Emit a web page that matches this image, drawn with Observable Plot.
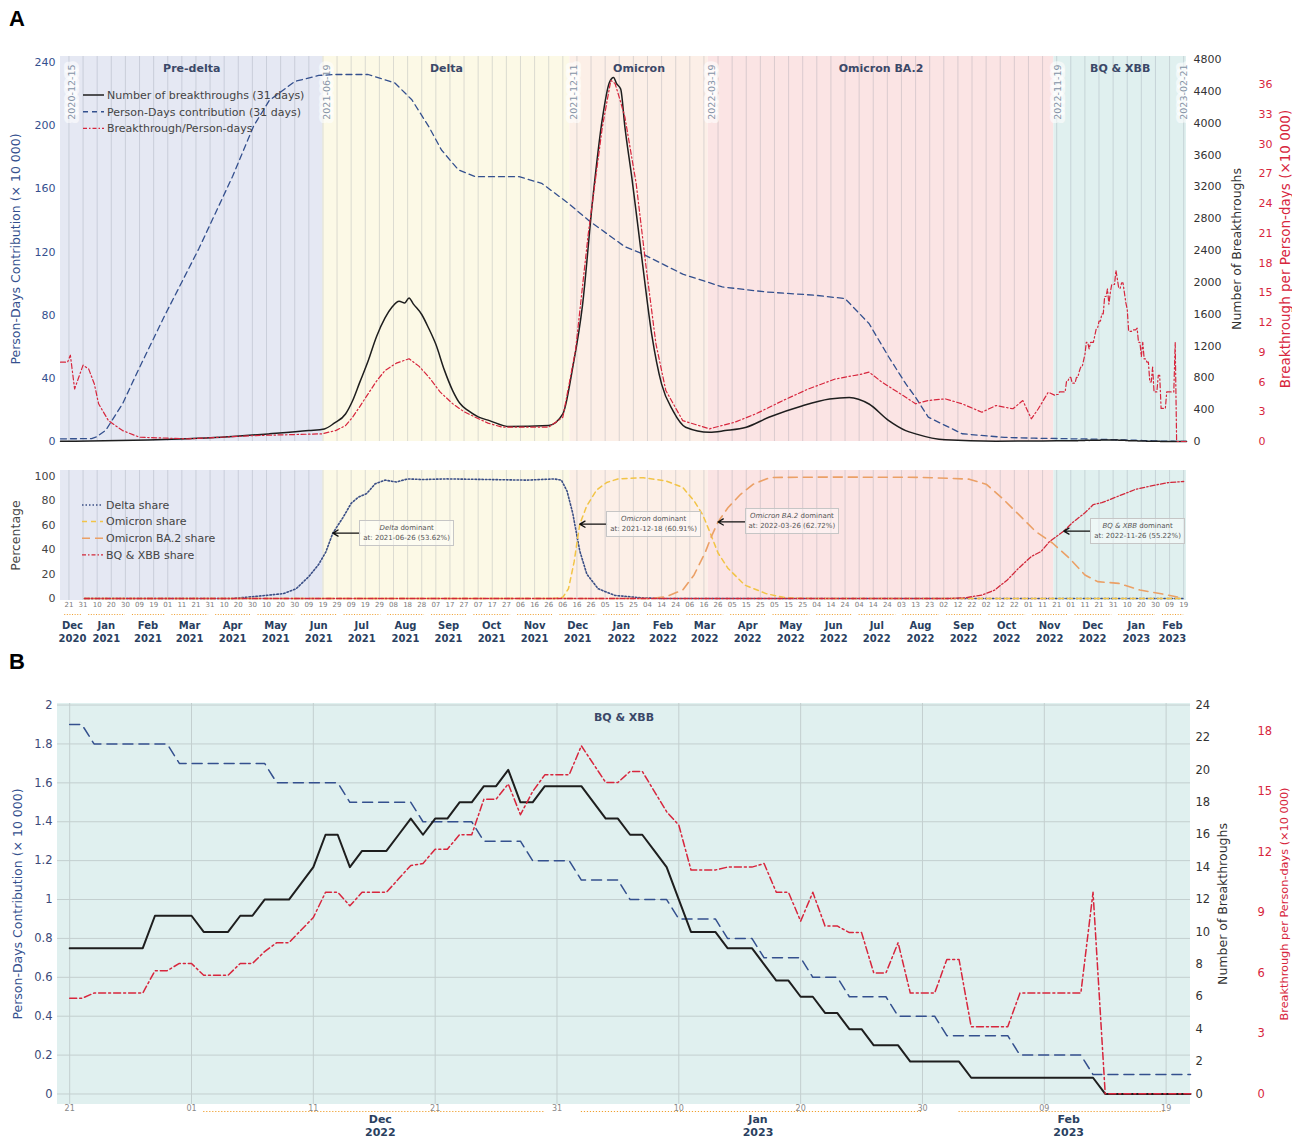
<!DOCTYPE html>
<html>
<head>
<meta charset="utf-8">
<script src="https://cdn.jsdelivr.net/npm/d3@7"></script>
<script src="https://cdn.jsdelivr.net/npm/@observablehq/plot@0.6"></script>
<style>
  html,body{margin:0;padding:0;background:#fff;}
  #root{position:relative;width:1292px;height:1139px;overflow:hidden;font-family:"DejaVu Sans",Verdana,sans-serif;}
  #root svg{overflow:visible;}
  .letter{position:absolute;left:9px;font:bold 22px "Liberation Sans",Arial,sans-serif;color:#000;}
  .ann{position:absolute;transform:translateY(-50%);font-size:7px;line-height:10px;color:#555;border:1px solid #c6c6c6;background:rgba(255,255,255,0.45);padding:2px 3px;text-align:center;white-space:nowrap;}
</style>
</head>
<body>
<div id="root"></div>
<script>
// ================= DATA =================
// Variant periods (band name, start, end)
const bands = [
  {name: "Pre-delta",    start: "2020-12-15", end: "2021-06-19"},
  {name: "Delta",        start: "2021-06-19", end: "2021-12-11"},
  {name: "Omicron",      start: "2021-12-11", end: "2022-03-19"},
  {name: "Omicron BA.2", start: "2022-03-19", end: "2022-11-19"},
  {name: "BQ & XBB",     start: "2022-11-19", end: "2023-02-21"}
];

// Panel A (top): Person-days contribution (x 10 000), 31-day window
const pdDatesA = ["2020-12-15","2021-01-06","2021-01-09","2021-01-16","2021-01-28","2021-02-08","2021-02-27","2021-03-23","2021-04-16","2021-05-01","2021-05-12","2021-05-30","2021-06-16","2021-06-28","2021-07-21","2021-08-09","2021-08-21","2021-09-02","2021-09-11","2021-09-23","2021-10-05","2021-11-05","2021-11-21","2021-12-10","2021-12-24","2022-01-19","2022-01-31","2022-03-01","2022-03-29","2022-04-29","2022-06-03","2022-06-24","2022-07-11","2022-07-25","2022-08-06","2022-08-13","2022-08-22","2022-09-15","2022-10-15","2022-11-05"];
const pdValsA = [1.7,1.8,2.7,7,23.9,45,80,122,168,200,216,228,231.8,232.4,232.4,227,216.4,199.4,184.6,172,167.7,167.7,163.5,150.8,140.2,123.3,119,106,97.9,94.7,92.6,90.5,74.7,53.5,36.6,28,15.4,4.9,2.6,2.1];

// Panel A (top): Number of breakthroughs, 31-day window
const countDatesA = ["2020-12-15","2021-01-15","2021-02-15","2021-03-15","2021-04-08","2021-05-12","2021-06-09","2021-06-20","2021-06-27","2021-07-05","2021-07-10","2021-07-15","2021-07-21","2021-07-27","2021-08-02","2021-08-07","2021-08-12","2021-08-16","2021-08-19","2021-08-22","2021-08-28","2021-09-02","2021-09-07","2021-09-13","2021-09-19","2021-09-24","2021-09-30","2021-10-07","2021-10-15","2021-10-29","2021-11-26","2021-12-06","2021-12-13","2021-12-20","2021-12-27","2022-01-03","2022-01-08","2022-01-11","2022-01-13","2022-01-16","2022-01-19","2022-01-24","2022-01-31","2022-02-07","2022-02-14","2022-02-22","2022-03-03","2022-03-20","2022-03-31","2022-04-15","2022-05-01","2022-05-25","2022-06-13","2022-06-27","2022-07-11","2022-07-25","2022-08-06","2022-08-13","2022-09-03","2022-10-09","2022-11-05"];
const countValsA = [3,8,20,35,54,96,137,158,230,346,512,740,1012,1320,1554,1690,1762,1740,1804,1730,1596,1420,1221,900,637,480,387,310,262,187,200,346,929,1721,3012,4054,4512,4575,4500,4429,3950,3304,2304,1346,721,387,179,116,137,179,304,450,533,554,471,262,137,96,21,4,6];

// Panel A (top): Breakthrough per person-days (x 10 000)
const rateDatesA = ["2020-12-15","2020-12-20","2020-12-22","2020-12-25","2020-12-31","2021-01-04","2021-01-08","2021-01-11","2021-01-18","2021-01-28","2021-02-09","2021-03-16","2021-05-02","2021-06-18","2021-06-28","2021-07-05","2021-07-10","2021-07-15","2021-07-21","2021-07-27","2021-08-02","2021-08-10","2021-08-19","2021-08-26","2021-09-02","2021-09-10","2021-09-19","2021-09-27","2021-10-05","2021-10-14","2021-10-24","2021-11-26","2021-12-06","2021-12-15","2021-12-24","2022-01-03","2022-01-09","2022-01-12","2022-01-15","2022-01-19","2022-01-27","2022-02-03","2022-02-10","2022-02-17","2022-03-01","2022-03-20","2022-04-07","2022-04-22","2022-05-11","2022-05-29","2022-06-17","2022-07-06","2022-07-11","2022-07-20","2022-08-06","2022-08-13","2022-08-22","2022-09-03","2022-09-15","2022-09-29","2022-10-09","2022-10-21","2022-10-28","2022-11-03","2022-11-08","2022-11-15","2022-11-20"];
const rateValsA = [8.0,8.0,8.7,5.3,7.7,7.3,5.8,3.8,2.1,1.1,0.43,0.27,0.6,0.77,1.1,1.6,2.45,3.5,4.8,6.1,7.16,7.9,8.34,7.6,6.5,5.0,3.8,3.0,2.45,1.85,1.45,1.45,2.45,9.2,20.9,31.7,36.4,36.1,34.7,32.7,26,17.6,9.85,5.14,2.1,1.28,1.95,2.8,4.13,5.3,6.3,6.8,7.0,6.0,4.47,3.8,4.13,4.3,3.8,2.95,3.63,3.3,4.13,2.29,3.3,4.97,4.64];

// Panel B: daily values from 2022-11-21 to 2023-02-21
const bStartDate = "2022-11-21";
const pdB = [1.9,1.9,1.8,1.8,1.8,1.8,1.8,1.8,1.8,1.7,1.7,1.7,1.7,1.7,1.7,1.7,1.7,1.6,1.6,1.6,1.6,1.6,1.6,1.5,1.5,1.5,1.5,1.5,1.5,1.4,1.4,1.4,1.4,1.4,1.3,1.3,1.3,1.3,1.2,1.2,1.2,1.2,1.1,1.1,1.1,1.1,1.0,1.0,1.0,1.0,0.9,0.9,0.9,0.9,0.8,0.8,0.8,0.7,0.7,0.7,0.7,0.6,0.6,0.6,0.5,0.5,0.5,0.5,0.4,0.4,0.4,0.4,0.3,0.3,0.3,0.3,0.3,0.3,0.2,0.2,0.2,0.2,0.2,0.2,0.1,0.1,0.1,0.1,0.1,0.1,0.1,0.1,0.1];
const countB = [9,9,9,9,9,9,9,11,11,11,11,10,10,10,11,11,12,12,12,13,14,16,16,14,15,15,15,16,17,16,17,17,18,18,19,19,20,18,18,19,19,19,19,18,17,17,16,16,15,14,12,10,10,10,9,9,9,8,7,7,6,6,5,5,4,4,3,3,3,2,2,2,2,2,1,1,1,1,1,1,1,1,1,1,1,0,0,0,0,0,0,0,0];
const rateB = [4.74,4.74,5,5,5,5,5,6.11,6.11,6.47,6.47,5.88,5.88,5.88,6.47,6.47,7.06,7.5,7.5,8.13,8.75,10,10,9.33,10,10,10,10.67,11.33,11.43,12.14,12.14,12.86,12.86,14.62,14.62,15.38,13.85,15,15.83,15.83,15.83,17.27,16.36,15.45,15.45,16,16,15,14,13.33,11.11,11.11,11.11,11.25,11.25,11.25,11.43,10,10,8.57,10,8.33,8.33,8,8,6,6,7.5,5,5,5,6.67,6.67,3.33,3.33,3.33,3.33,5,5,5,5,5,5,10,0,0,0,0,0,0,0,0];

// Panel A (bottom): variant shares (%)
const deltaDates = ["2021-01-01","2021-04-16","2021-05-05","2021-05-22","2021-05-31","2021-06-09","2021-06-16","2021-06-21","2021-06-26","2021-07-03","2021-07-09","2021-07-14","2021-07-20","2021-07-26","2021-08-02","2021-08-10","2021-08-18","2021-08-28","2021-09-15","2021-10-15","2021-11-10","2021-11-30","2021-12-05","2021-12-09","2021-12-13","2021-12-18","2021-12-23","2021-12-31","2022-01-12","2022-01-31","2022-02-15","2023-02-19"];
const deltaVals = [0,0,2,4,8,18,28,38,53.62,66,78,83,86,94,97,95.5,98,97.5,98,97.5,97,98,97,88,70,39,20,8,2.5,0.5,0,0];
const omiDates = ["2021-01-01","2021-11-30","2021-12-06","2021-12-10","2021-12-14","2021-12-18","2021-12-23","2021-12-30","2022-01-06","2022-01-14","2022-02-01","2022-02-17","2022-03-01","2022-03-09","2022-03-15","2022-03-20","2022-03-26","2022-04-02","2022-04-14","2022-04-29","2022-05-13","2022-06-01","2023-02-19"];
const omiVals = [0,0,1,8,30,60.91,76,89,95,98,99,96.4,91,80,69,55,37.3,24.8,11,4,0.5,0,0];
const ba2Dates = ["2021-01-01","2022-02-05","2022-02-17","2022-03-01","2022-03-09","2022-03-17","2022-03-21","2022-03-26","2022-04-02","2022-04-11","2022-04-20","2022-05-02","2022-06-15","2022-08-15","2022-09-05","2022-09-20","2022-10-02","2022-10-13","2022-10-25","2022-11-06","2022-11-18","2022-11-30","2022-12-11","2022-12-20","2023-01-04","2023-01-19","2023-02-02","2023-02-18"];
const ba2Vals = [0,0,1.4,7,19.3,38,50,62.72,74.4,85.4,93.7,99.2,99.5,99.3,98.5,97.8,93.7,82.6,68.9,55,45.5,33,19.3,13.8,12.4,6.9,4.1,0.5];
const bqDates = ["2021-01-01","2022-09-05","2022-09-17","2022-09-29","2022-10-08","2022-10-17","2022-10-25","2022-11-03","2022-11-10","2022-11-16","2022-11-21","2022-11-26","2022-12-02","2022-12-11","2022-12-17","2022-12-23","2023-01-04","2023-01-16","2023-01-27","2023-02-08","2023-02-19"];
const bqVals = [0,0,0.6,2.8,6.9,15.2,24.8,34.4,38.6,46.8,51,55.22,62,70.2,77,78.5,84,89.5,92.3,95,95.9];

// Dominance annotations
const dominance = [
  {variant: "Delta",        date: "2021-06-26", pct: 53.62},
  {variant: "Omicron",      date: "2021-12-18", pct: 60.91},
  {variant: "Omicron BA.2", date: "2022-03-26", pct: 62.72},
  {variant: "BQ & XBB",     date: "2022-11-26", pct: 55.22}
];

// Tick labels / axis values
const pdTicksA = [0,40,80,120,160,200,240];
const countTicksA = [0,400,800,1200,1600,2000,2400,2800,3200,3600,4000,4400,4800];
const rateTicksA = [0,3,6,9,12,15,18,21,24,27,30,33,36];
const pctTicks = [0,20,40,60,80,100];
const pdTicksB = [0,0.2,0.4,0.6,0.8,1,1.2,1.4,1.6,1.8,2];
const countTicksB = [0,2,4,6,8,10,12,14,16,18,20,22,24];
const rateTicksB = [0,3,6,9,12,15,18];
const dayTickStartA = "2020-12-21";
const dayTickStartB = "2022-11-21";
const dayTickStep = 10;

// Labels
const titlePD = "Person-Days Contribution (× 10 000)";
const titleCount = "Number of Breakthroughs";
const titleRate = "Breakthrough per Person-days (×10 000)";
const legendTop = ["Number of breakthroughs (31 days)", "Person-Days contribution (31 days)", "Breakthrough/Person-days"];
const legendShares = ["Delta share", "Omicron share", "Omicron BA.2 share", "BQ & XBB share"];

// ================= STYLE =================
const FONT = "DejaVu Sans, Verdana, sans-serif";
const W = 1292;
const bandColors = {"Pre-delta": "#e5e8f3", "Delta": "#fcf9e6", "Omicron": "#fcefe7", "Omicron BA.2": "#fbe4e4", "BQ & XBB": "#e0f0ef"};
const BLUE = "#34508e", RED = "#d7263d", BLACK = "#1e1e1e";
const C_DELTA = "#3b4f86", C_OMI = "#f2c447", C_BA2 = "#eba066", C_BQ = "#d1283a";
const ORANGE_DOT = "#f0a030";
const BAND_TXT = "#3b4868", MONTH_TXT = "#2a3f5f";

// ================= HELPERS =================
const P = d3.utcParse("%Y-%m-%d");
const day = d3.utcDay;
const root = document.getElementById("root");
const zip = (ds, vs) => ds.map((d, i) => ({date: P(d), v: vs[i]}));
const daily = vs => vs.map((v, i) => ({date: day.offset(P(bStartDate), i), v}));
const mid = (a, b) => new Date((+a + +b) / 2);
function place(svg, top) {
  svg.style.position = "absolute"; svg.style.left = "0px"; svg.style.top = top + "px";
  root.appendChild(svg); return svg;
}
function dayTicks(start, stop) { const out = []; for (let d = P(start); d <= stop; d = day.offset(d, dayTickStep)) out.push(d); return out; }
function monthsIn(dom, minDays) {
  return d3.utcMonth.range(d3.utcMonth.floor(dom[0]), dom[1]).map(m => {
    const s = m < dom[0] ? dom[0] : m, n = d3.utcMonth.offset(m, 1), e = n > dom[1] ? dom[1] : n;
    return {s, e, mid: mid(s, e), label: d3.utcFormat("%b\n%Y")(m), days: (e - s) / 864e5};
  }).filter(d => d.days >= minDays);
}
const style = {background: "transparent", overflow: "visible", fontFamily: FONT};
const title = (t, side, dx, fontSize, fill) => Plot.text([t], {frameAnchor: side, rotate: -90, textAnchor: "middle", lineAnchor: "middle", dx, fontSize, fill});

const domA = [P("2020-12-15"), P("2023-02-21")];
const domB = [P("2022-11-20"), P("2023-02-21")];
const bandRows = bands.map(b => ({...b, s: P(b.start), e: P(b.end)}));
const ticksA = dayTicks(dayTickStartA, domA[1]);
const ticksB = dayTicks(dayTickStartB, domB[1]);
const monthsA = monthsIn(domA, 14);
const monthsB = monthsIn(domB, 14);

const pdA = zip(pdDatesA, pdValsA).concat(daily(pdB));
const countA = zip(countDatesA, countValsA).concat(daily(countB));
const rateA = zip(rateDatesA, rateValsA).concat(daily(rateB));

// ================= PANEL A (top) =================
const aTopM = {width: W, height: 420, marginTop: 16, marginBottom: 19, marginLeft: 60, marginRight: 106, style, color: {type: "identity"}};
const boundaries = bandRows.map(b => b.s).concat([bandRows[bandRows.length - 1].e]);
const dateLblOpts = {x: d => d, text: d => d3.utcFormat("%Y-%m-%d")(d), frameAnchor: "top", dy: 8, rotate: -90, textAnchor: "end",
  fontSize: 9.5, fill: "#8593a6", stroke: "#ffffff", strokeWidth: 8, strokeOpacity: 0.6, strokeLinejoin: "round", paintOrder: "stroke"};

const aTop1 = Plot.plot({...aTopM,
  x: {type: "utc", domain: domA, axis: null},
  y: {domain: [0, 243.8]},
  marks: [
    Plot.rect(bandRows, {x1: "s", x2: "e", fill: d => bandColors[d.name]}),
    Plot.ruleX(ticksA, {stroke: "#7d8494", strokeOpacity: 0.25}),
    Plot.text(bandRows, {x: d => mid(d.s, d.e), text: "name", frameAnchor: "top", dy: 8, fontWeight: "bold", fontSize: 11, fill: BAND_TXT}),
    Plot.text(boundaries.slice(1, -1), dateLblOpts),
    Plot.text(boundaries.slice(0, 1), {...dateLblOpts, dx: 8}),
    Plot.text(boundaries.slice(-1), {...dateLblOpts, dx: -6}),
    Plot.line(pdA, {x: "date", y: "v", stroke: BLUE, strokeWidth: 1.3, strokeDasharray: "6,4"}),
    Plot.axisY({anchor: "left", ticks: pdTicksA, tickSize: 0, tickPadding: 5, tickFormat: d3.format("d"), fontSize: 11, fill: BLUE, label: null}),
    title(titlePD, "left", -45, 12.5, BLUE)
  ]
});
place(aTop1, 40);

const aTop2 = Plot.plot({...aTopM,
  x: {type: "utc", domain: domA, axis: null},
  y: {domain: [0, 4838]},
  marks: [
    Plot.line(countA, {x: "date", y: "v", stroke: BLACK, strokeWidth: 1.5, curve: "monotone-x"}),
    Plot.axisY({anchor: "right", ticks: countTicksA, tickSize: 0, tickPadding: 7, tickFormat: d3.format("d"), fontSize: 11, fill: "#333", label: null}),
    title(titleCount, "right", 50, 12.5, "#333")
  ]
});
place(aTop2, 40);

const aTop3 = Plot.plot({...aTopM,
  x: {type: "utc", domain: domA, axis: null},
  y: {domain: [0, 38.82]},
  marks: [
    Plot.line(rateA, {x: "date", y: "v", stroke: RED, strokeWidth: 1.2, strokeDasharray: "5,2.5,1.5,2.5"}),
    Plot.axisY({anchor: "right", ticks: rateTicksA, tickSize: 0, tickPadding: 72, tickFormat: d3.format("d"), fontSize: 11, fill: RED, label: null}),
    title(titleRate, "right", 99, 13.5, RED)
  ]
});
place(aTop3, 40);

// ================= PANEL A (bottom) =================
const pctDom = [-1.64, 104.9];
const arrowLenDays = 19;
const pct = Plot.plot({width: W, height: 185, marginTop: 10, marginBottom: 45, marginLeft: 60, marginRight: 106, style, color: {type: "identity"},
  x: {type: "utc", domain: domA},
  y: {domain: pctDom},
  marks: [
    Plot.rect(bandRows, {x1: "s", x2: "e", fill: d => bandColors[d.name]}),
    Plot.ruleX(ticksA, {stroke: "#7d8494", strokeOpacity: 0.25}),
    Plot.ruleY(monthsA, {x1: d => day.offset(d.s, 3), x2: d => day.offset(d.e, -2), y: () => pctDom[0], dy: 14, stroke: ORANGE_DOT, strokeWidth: 1.2, strokeDasharray: "1,1.6"}),
    Plot.axisX({ticks: ticksA, tickFormat: d3.utcFormat("%d"), tickSize: 0, tickPadding: 2, fontSize: 7, fill: "#7a7a7a", label: null}),
    Plot.text(monthsA, {x: "mid", text: "label", frameAnchor: "bottom", dy: 19, lineAnchor: "top", lineHeight: 1.3, fontWeight: "bold", fontSize: 10, fill: MONTH_TXT}),
    Plot.axisY({anchor: "left", ticks: pctTicks, tickSize: 0, tickPadding: 5, fontSize: 11, fill: "#444", label: null}),
    Plot.line(zip(deltaDates, deltaVals), {x: "date", y: "v", stroke: C_DELTA, strokeWidth: 1.6, strokeDasharray: "1.5,2"}),
    Plot.line(zip(omiDates, omiVals), {x: "date", y: "v", stroke: C_OMI, strokeWidth: 1.5, strokeDasharray: "5,4"}),
    Plot.line(zip(ba2Dates, ba2Vals), {x: "date", y: "v", stroke: C_BA2, strokeWidth: 1.6, strokeDasharray: "9,6"}),
    Plot.line(zip(bqDates, bqVals), {x: "date", y: "v", stroke: C_BQ, strokeWidth: 1.3, strokeDasharray: "5,2,1.5,2"}),
    Plot.arrow(dominance, {x1: d => day.offset(P(d.date), arrowLenDays), y1: "pct", x2: d => P(d.date), y2: "pct", stroke: "#111", strokeWidth: 1.3, headLength: 7}),
    title("Percentage", "left", -45, 12.5, "#444")
  ]
});
place(pct, 460);

// annotation boxes, positioned through the plot's scales
{
  const sx = pct.scale("x"), sy = pct.scale("y");
  for (const a of dominance) {
    const div = document.createElement("div");
    div.className = "ann";
    const it = document.createElement("i"); it.textContent = a.variant;
    div.append(it, " dominant", document.createElement("br"), `at: ${a.date} (${a.pct.toFixed(2)}%)`);
    div.style.left = (sx.apply(P(a.date)) + 27) + "px";
    div.style.top = (460 + sy.apply(a.pct)) + "px";
    root.appendChild(div);
  }
}

// ================= PANEL B =================
const bM = {width: W, height: 459, marginTop: 23, marginBottom: 35, marginLeft: 57, marginRight: 102, style, color: {type: "identity"}};
const bBands = bandRows.filter(b => b.e > domB[0] && b.s < domB[1]).map(b => ({...b, m: mid(b.s < domB[0] ? domB[0] : b.s, b.e > domB[1] ? domB[1] : b.e)}));
const pdDomB = [-0.054, 2.008];
const b1 = Plot.plot({...bM,
  x: {type: "utc", domain: domB},
  y: {domain: pdDomB},
  marks: [
    Plot.rect(bandRows, {x1: "s", x2: "e", fill: d => bandColors[d.name], clip: true}),
    Plot.ruleY(pdTicksB, {stroke: "#c3cfcf", strokeWidth: 1}),
    Plot.ruleX(ticksB, {stroke: "#c3cfcf", strokeWidth: 1}),
    Plot.text(bBands, {x: "m", text: "name", frameAnchor: "top", dy: 10, fontWeight: "bold", fontSize: 11, fill: BAND_TXT}),
    Plot.ruleY(monthsB, {x1: d => day.offset(d.s, 1), x2: d => day.offset(d.e, -2), y: () => pdDomB[0], dy: 7, stroke: ORANGE_DOT, strokeWidth: 1.2, strokeDasharray: "1.2,1.8"}),
    Plot.axisX({ticks: ticksB, tickFormat: d3.utcFormat("%d"), tickSize: 0, tickPadding: 1, fontSize: 8, fill: "#888", label: null}),
    Plot.text(monthsB, {x: "mid", text: "label", frameAnchor: "bottom", dy: 10, lineAnchor: "top", lineHeight: 1.15, fontWeight: "bold", fontSize: 11, fill: MONTH_TXT}),
    Plot.axisY({anchor: "left", ticks: pdTicksB, tickSize: 0, tickPadding: 5, tickFormat: d3.format("~g"), fontSize: 11.5, fill: "#3c4a78", label: null}),
    Plot.line(daily(pdB), {x: "date", y: "v", stroke: BLUE, strokeWidth: 1.5, strokeDasharray: "10,6"}),
    title(titlePD, "left", -40, 12.5, BLUE)
  ]
});
place(b1, 680);

const b2 = Plot.plot({...bM,
  x: {type: "utc", domain: domB, axis: null},
  y: {domain: [-0.65, 24.1]},
  marks: [
    Plot.line(daily(countB), {x: "date", y: "v", stroke: BLACK, strokeWidth: 2}),
    Plot.axisY({anchor: "right", ticks: countTicksB, tickSize: 0, tickPadding: 5, fontSize: 11.5, fill: "#333", label: null}),
    title(titleCount, "right", 32, 12.5, "#333")
  ]
});
place(b2, 680);

const b3 = Plot.plot({...bM,
  x: {type: "utc", domain: domB, axis: null},
  y: {domain: [-0.53, 19.37]},
  marks: [
    Plot.line(daily(rateB), {x: "date", y: "v", stroke: RED, strokeWidth: 1.5, strokeDasharray: "7,3,2,3"}),
    Plot.axisY({anchor: "right", ticks: rateTicksB, tickSize: 0, tickPadding: 67, fontSize: 11.5, fill: RED, label: null}),
    title(titleRate, "right", 94, 11.3, RED)
  ]
});
place(b3, 680);

// ================= LEGENDS & LETTERS =================
function legend(labels, styles, left, top, rowH) {
  const ns = "http://www.w3.org/2000/svg";
  const svg = document.createElementNS(ns, "svg");
  svg.setAttribute("width", 260); svg.setAttribute("height", rowH * labels.length + 10);
  svg.style.cssText = `position:absolute;left:${left}px;top:${top}px;overflow:visible;font-family:${FONT}`;
  labels.forEach((lab, i) => {
    const y = 6 + i * rowH, s = styles[i];
    const ln = document.createElementNS(ns, "line");
    ln.setAttribute("x1", 3); ln.setAttribute("x2", 24); ln.setAttribute("y1", y); ln.setAttribute("y2", y);
    ln.setAttribute("stroke", s.c); ln.setAttribute("stroke-width", s.w);
    if (s.d) ln.setAttribute("stroke-dasharray", s.d);
    const tx = document.createElementNS(ns, "text");
    tx.setAttribute("x", 27); tx.setAttribute("y", y); tx.setAttribute("dy", "0.35em");
    tx.setAttribute("font-size", 11); tx.setAttribute("fill", "#444");
    tx.textContent = lab;
    svg.append(ln, tx);
  });
  root.appendChild(svg);
}
legend(legendTop, [{c: BLACK, w: 1.5}, {c: BLUE, w: 1.5, d: "5,4"}, {c: RED, w: 1.3, d: "4,2,1.5,2"}], 80, 89, 16.7);
legend(legendShares, [{c: C_DELTA, w: 1.6, d: "1.5,2"}, {c: C_OMI, w: 1.5, d: "5,4"}, {c: C_BA2, w: 1.6, d: "8,5"}, {c: C_BQ, w: 1.3, d: "4,2,1.5,2"}], 79, 499, 16.6);

for (const [t, top] of [["A", 6], ["B", 649]]) {
  const d = document.createElement("div"); d.className = "letter"; d.style.top = top + "px"; d.textContent = t; root.appendChild(d);
}
</script>
</body>
</html>
